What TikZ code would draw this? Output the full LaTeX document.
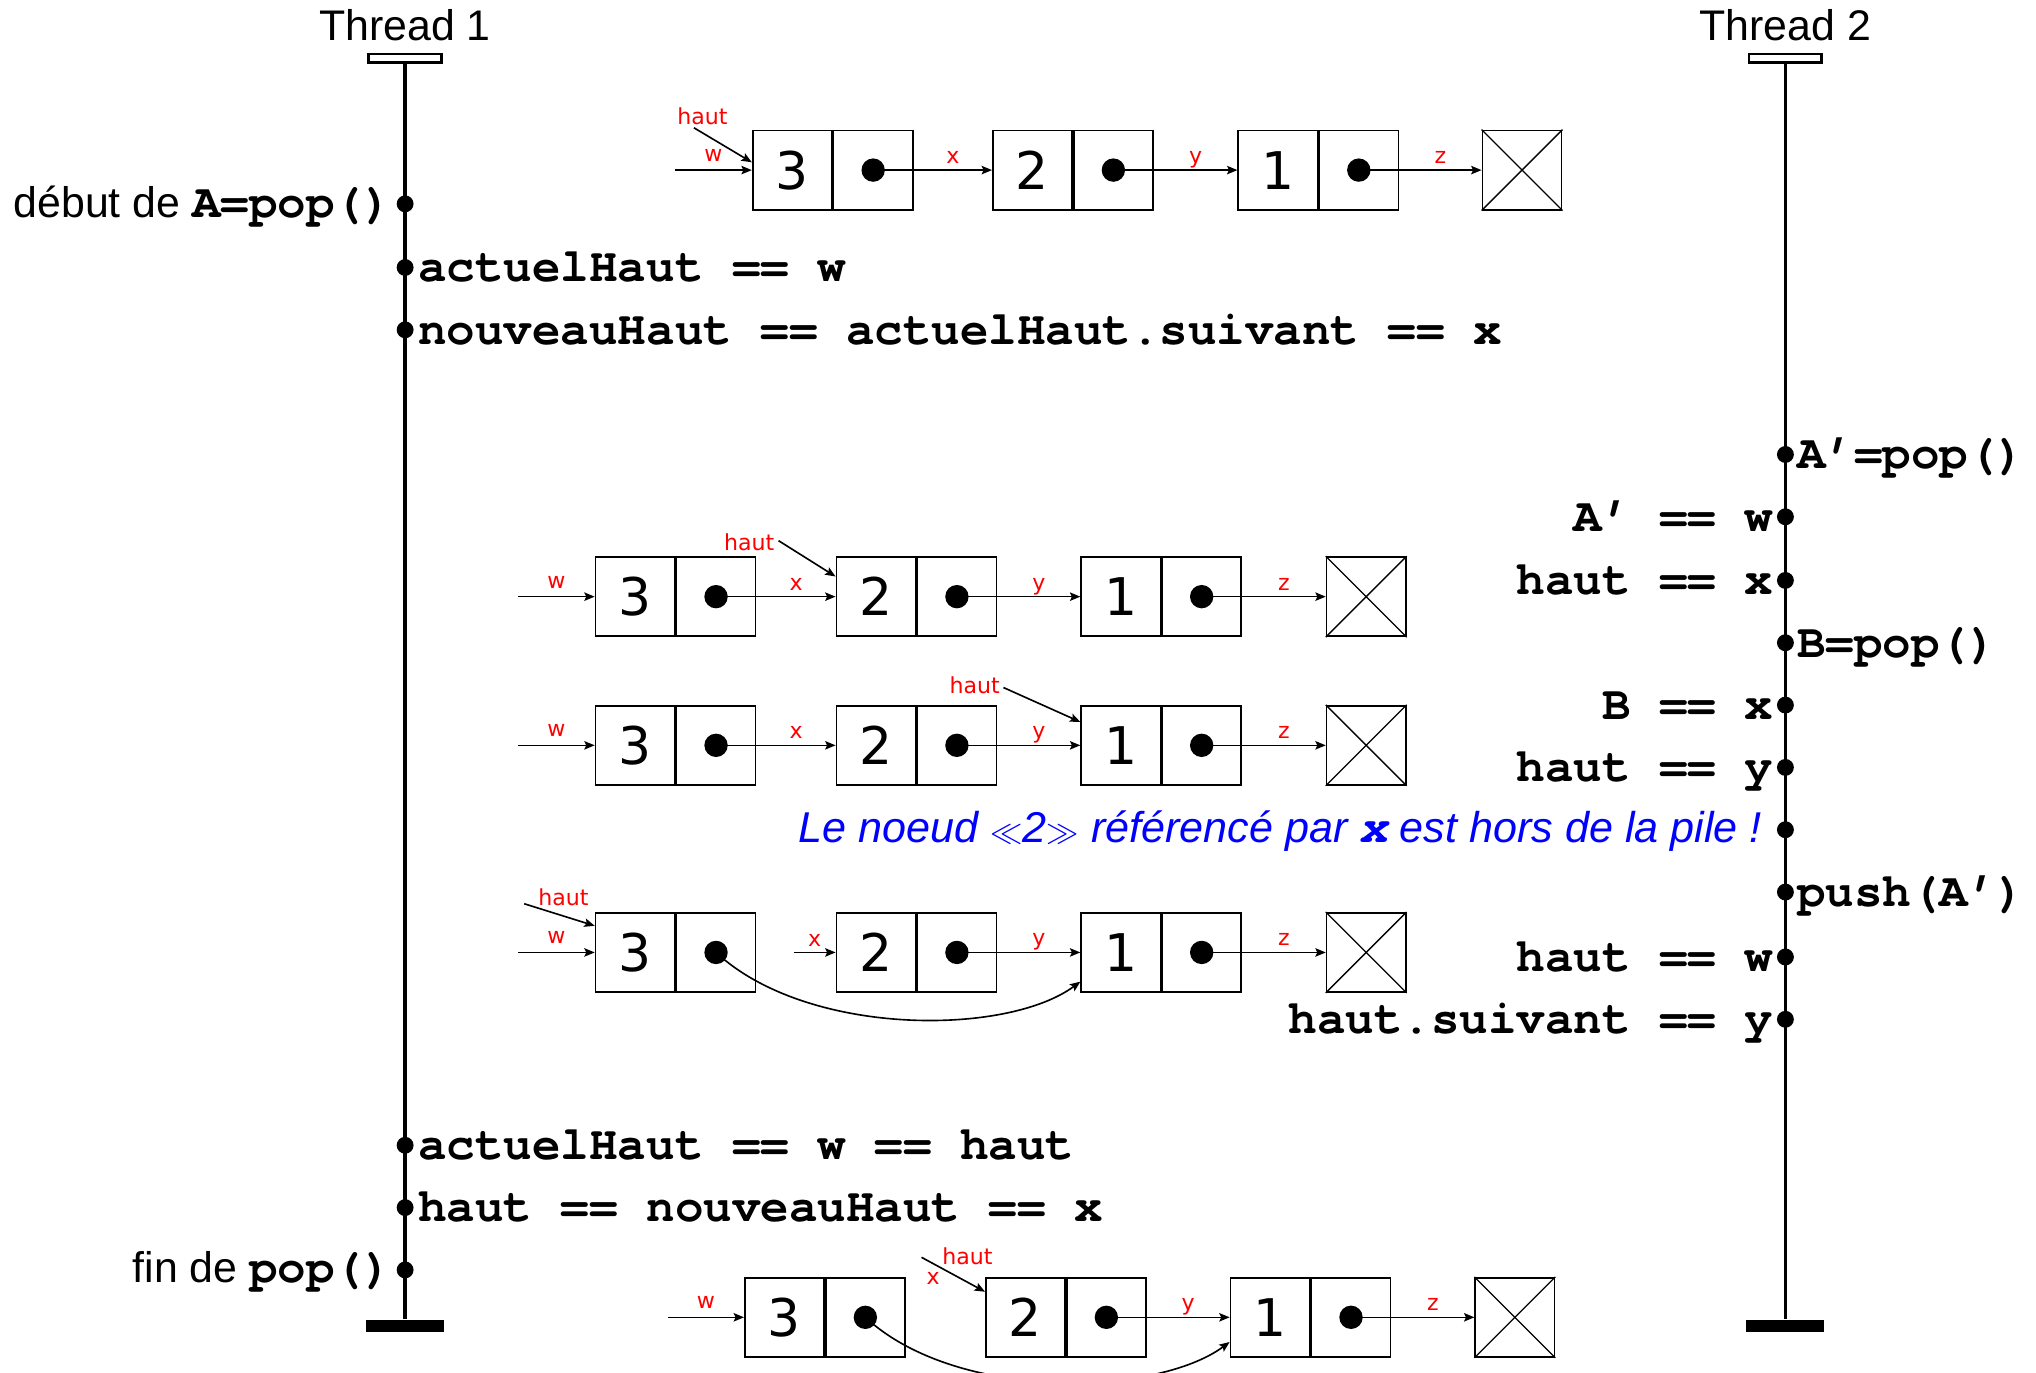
\documentclass[tikz,border=0pt]{standalone}
\usepackage{fontspec}
\setmainfont{Liberation Sans}
\setmonofont{TeX Gyre Cursor}
\newfontfamily\djv{DejaVu Sans}
\usetikzlibrary{arrows.meta,calc}
\newcommand\cd[1]{{\fontsize{36.6}{44}\selectfont\ttfamily\bfseries #1}}
\newcommand\listnode[4]{%
  \node[cell,anchor=west] (#1) at (#2,#3) {#4};
  \node[cell,anchor=west] (#1p) at (#1.east) {};
  \node[bul] (#1b) at (#1p.center) {};}
\newcommand\nullnode[3]{%
  \node[nullbox,anchor=west] (#1) at (#2,#3) {};
  \draw[line width=1pt] (#1.north west) -- (#1.south east) (#1.north east) -- (#1.south west);}
\newcommand\lrow[6]{%
  \listnode{#1a}{#3}{#2}{3}
  \listnode{#1b}{#4}{#2}{2}
  \listnode{#1c}{#5}{#2}{1}
  \nullnode{#1z}{#6}{#2}}
\newcommand\glabel[4]{\path (#1) -- (#2) node[lbl,midway,anchor=base,yshift=5pt] (#3) {#4};}
\begin{document}
\begin{tikzpicture}[x=1pt,y=-1pt,
  thr/.style={line width=2.6pt},
  tdot/.style={circle,fill,inner sep=0,minimum size=13pt},
  cell/.style={draw,line width=1.3pt,minimum width=61pt,minimum height=61pt,inner sep=0,font=\djv\fontsize{40}{48}\selectfont},
  bul/.style={circle,fill,inner sep=0,minimum size=18pt},
  nullbox/.style={draw,line width=1.3pt,minimum width=61pt,minimum height=61pt,inner sep=0},
  ptr/.style={line width=1.25pt,-{Stealth[length=8pt,width=6.5pt,inset=1.5pt]}},
  lbl/.style={text=red,font=\djv\fontsize{17}{20}\selectfont,inner sep=0},
  code/.style={font=\fontsize{36.6}{44}\selectfont\ttfamily\bfseries,inner sep=0},
  sans/.style={font=\fontsize{33}{40}\selectfont,inner sep=0},
  topbar/.style={draw,line width=2pt,fill=white,minimum width=56pt,minimum height=6.5pt,inner sep=0},
  botbar/.style={fill,minimum width=60pt,minimum height=9.5pt,inner sep=0},
]
\useasboundingbox (0,0) rectangle (1568,1057);

% ---------- threads ----------
\node[sans,anchor=base] (t1) at (312,31.5) {Thread 1};
\node[sans,anchor=base] (t2) at (1375,31.5) {Thread 2};
\node[botbar] (t1bot) at (312,1021) {};
\node[botbar] (t2bot) at (1375,1021) {};
\node[topbar] (t1top) at (312,44.75) {};
\node[topbar] (t2top) at (1375,44.75) {};
\draw[thr] (t1top.south) -- (t1bot.north);
\draw[thr] (t2top.south) -- (t2bot.north);

% thread 1 events
\node[tdot] (a1) at (312,157) {};
\node[tdot] (a2) at (312,206) {};
\node[tdot] (a3) at (312,254) {};
\node[tdot] (a4) at (312,882) {};
\node[tdot] (a5) at (312,930) {};
\node[tdot] (a6) at (312,978) {};
\node[sans,anchor=base east] (ta1) at (302,167.5) {début de \cd{A=pop()}};
\node[code,anchor=base west] (ta2) at (322,217) {actuelHaut == w};
\node[code,anchor=base west] (ta3) at (322,265) {nouveauHaut == actuelHaut.suivant == x};
\node[code,anchor=base west] (ta4) at (322,893) {actuelHaut == w == haut};
\node[code,anchor=base west] (ta5) at (322,941) {haut == nouveauHaut == x};
\node[sans,anchor=base east] (ta6) at (302,988) {fin de \cd{pop()}};

% thread 2 events
\node[tdot] (b1) at (1375,350) {};
\node[tdot] (b2) at (1375,398) {};
\node[tdot] (b3) at (1375,447) {};
\node[tdot] (b4) at (1375,495) {};
\node[tdot] (b5) at (1375,543) {};
\node[tdot] (b6) at (1375,591) {};
\node[tdot] (b7) at (1375,639) {};
\node[tdot] (b8) at (1375,687) {};
\node[tdot] (b9) at (1375,737) {};
\node[tdot] (b10) at (1375,785) {};
\node[code,anchor=base west] (tb1) at (1384,361) {A’=pop()};
\node[code,anchor=base east] (tb2) at (1366,409) {A’ == w};
\node[code,anchor=base east] (tb3) at (1366,458) {haut == x};
\node[code,anchor=base west] (tb4) at (1384,506) {B=pop()};
\node[code,anchor=base east] (tb5) at (1366,554) {B == x};
\node[code,anchor=base east] (tb6) at (1366,602) {haut == y};
\node[anchor=base east,inner sep=0,text=blue,font=\fontsize{33.2}{40}\selectfont\itshape] (tb7) at (1357,648.5) {Le noeud $\ll$2$\gg$ référencé par \cd{x} est hors de la pile !};
\node[code,anchor=base west] (tb8) at (1384,698) {push(A’)};
\node[code,anchor=base east] (tb9) at (1366,748) {haut == w};
\node[code,anchor=base east] (tb10) at (1366,796) {haut.suivant == y};

% ---------- row 0 ----------
\lrow{r0}{131}{579}{764}{953}{1141}
\coordinate (r0ws) at (520,131);
\draw[ptr] (r0ws) -- (r0a.west) node[lbl,midway,anchor=base,yshift=7pt] (r0lw) {w};
\node[lbl,anchor=base] (r0h) at (541,95.5) {haut};
\coordinate (r0hs) at (534.4,98.4);
\draw[ptr] (r0hs) -- ([yshift=6pt]r0a.west);
\draw[ptr] (r0ab.center) -- (r0b.west);
\draw[ptr] (r0bb.center) -- (r0c.west);
\draw[ptr] (r0cb.center) -- (r0z.west);
\glabel{r0ap.east}{r0b.west}{r0lx}{x}
\glabel{r0bp.east}{r0c.west}{r0ly}{y}
\glabel{r0cp.east}{r0z.west}{r0lz}{z}

% ---------- row 1 ----------
\lrow{r1}{459.5}{458}{643.5}{832}{1021}
\coordinate (r1ws) at (399,459.5);
\draw[ptr] (r1ws) -- (r1a.west) node[lbl,midway,anchor=base,yshift=6.5pt] (r1lw) {w};
\node[lbl,anchor=base] (r1h) at (577,423.6) {haut};
\coordinate (r1hs) at (599.6,416.4);
\draw[ptr] (r1hs) -- ([yshift=15.5pt]r1b.west);
\draw[ptr] (r1ab.center) -- (r1b.west);
\draw[ptr] (r1bb.center) -- (r1c.west);
\draw[ptr] (r1cb.center) -- (r1z.west);
\glabel{r1ap.east}{r1b.west}{r1lx}{x}
\glabel{r1bp.east}{r1c.west}{r1ly}{y}
\glabel{r1cp.east}{r1z.west}{r1lz}{z}

% ---------- row 2 ----------
\lrow{r2}{574}{458}{643.5}{832}{1021}
\coordinate (r2ws) at (399,574);
\draw[ptr] (r2ws) -- (r2a.west) node[lbl,midway,anchor=base,yshift=6.5pt] (r2lw) {w};
\node[lbl,anchor=base] (r2h) at (750.6,534) {haut};
\coordinate (r2hs) at (772.8,529.5);
\draw[ptr] (r2hs) -- ([yshift=18pt]r2c.west);
\draw[ptr] (r2ab.center) -- (r2b.west);
\draw[ptr] (r2bb.center) -- (r2c.west);
\draw[ptr] (r2cb.center) -- (r2z.west);
\glabel{r2ap.east}{r2b.west}{r2lx}{x}
\glabel{r2bp.east}{r2c.west}{r2ly}{y}
\glabel{r2cp.east}{r2z.west}{r2lz}{z}

% ---------- row 3 ----------
\lrow{r3}{733.5}{458}{643.5}{832}{1021}
\coordinate (r3ws) at (399,733.5);
\draw[ptr] (r3ws) -- (r3a.west) node[lbl,midway,anchor=base,yshift=6.5pt] (r3lw) {w};
\node[lbl,anchor=base] (r3h) at (434,697.7) {haut};
\coordinate (r3hs) at (403.7,696);
\draw[ptr] (r3hs) -- ([yshift=20.5pt]r3a.west);
\coordinate (r3xs) at (611.4,733.5);
\draw[ptr] (r3xs) -- (r3b.west) node[lbl,midway,anchor=base,yshift=4.5pt] (r3lx) {x};
\draw[ptr] (r3ab.center) .. controls +(70,65) and +(-57,42) .. ([yshift=-22.5pt]r3c.west);
\draw[ptr] (r3bb.center) -- (r3c.west);
\draw[ptr] (r3cb.center) -- (r3z.west);
\glabel{r3bp.east}{r3c.west}{r3ly}{y}
\glabel{r3cp.east}{r3z.west}{r3lz}{z}

% ---------- row 4 ----------
\lrow{r4}{1014.5}{573}{758.6}{947}{1135.5}
\coordinate (r4ws) at (514.4,1014.5);
\draw[ptr] (r4ws) -- (r4a.west) node[lbl,midway,anchor=base,yshift=6.5pt] (r4lw) {w};
\node[lbl,anchor=base] (r4h) at (745,974.2) {haut};
\node[lbl,anchor=base] (r4x) at (718.7,989.6) {x};
\coordinate (r4hs) at (709.7,968.3);
\draw[ptr] (r4hs) -- ([yshift=19.7pt]r4b.west);
\draw[ptr] (r4ab.center) .. controls +(70,65) and +(-57,42) .. ([yshift=-19pt]r4c.west);
\draw[ptr] (r4bb.center) -- (r4c.west);
\draw[ptr] (r4cb.center) -- (r4z.west);
\glabel{r4bp.east}{r4c.west}{r4ly}{y}
\glabel{r4cp.east}{r4z.west}{r4lz}{z}
\end{tikzpicture}
\end{document}
